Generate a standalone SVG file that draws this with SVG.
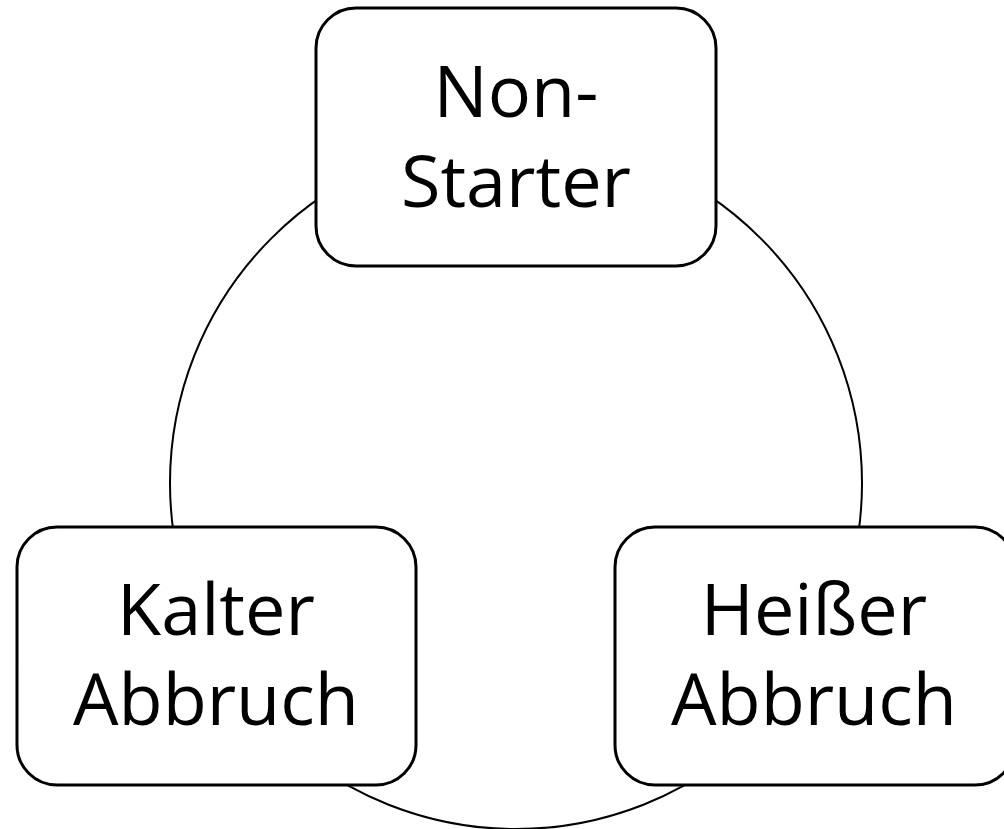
<svg xmlns="http://www.w3.org/2000/svg" width="1004" height="829" viewBox="0 0 1004 829">
<style>
.box{fill:#fff;stroke:#000;stroke-width:3}
.lbl{font-family:"Open Sans","Liberation Sans",sans-serif;font-size:72px;fill:#000;text-anchor:middle}
.ring{fill:none;stroke:#000;stroke-width:2}
</style>
<rect width="1004" height="829" fill="#fff"/>
<g id="connectors">
<circle class="ring" cx="516" cy="483" r="346"/>
</g>
<g id="non-starter">
<rect class="box" x="316" y="8" width="400" height="258" rx="40"/>
<text class="lbl" x="516" y="117">Non-</text>
<text class="lbl" x="516" y="207">Starter</text>
</g>
<g id="kalter-abbruch">
<rect class="box" x="17" y="527" width="399" height="258" rx="40"/>
<text class="lbl" x="216" y="635">Kalter</text>
<text class="lbl" x="216" y="725">Abbruch</text>
</g>
<g id="heisser-abbruch">
<rect class="box" x="615" y="527" width="400" height="258" rx="40"/>
<text class="lbl" x="814" y="635">Heißer</text>
<text class="lbl" x="814" y="725">Abbruch</text>
</g>
</svg>
